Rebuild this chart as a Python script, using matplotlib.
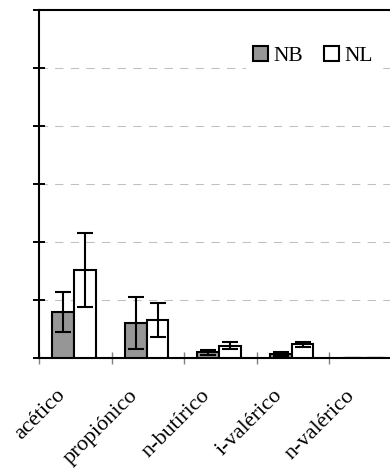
import matplotlib
matplotlib.use("Agg")
import matplotlib.pyplot as plt
import numpy as np
from matplotlib.patches import Patch
from matplotlib.transforms import ScaledTranslation

# Ácidos grasos volátiles por grupo
categories = ["acético", "propiónico", "n-butírico", "i-valérico", "n-valérico"]
nb_values = [7.9, 6.1, 1.0, 0.7, 0.05]
nb_errors = [3.5, 4.5, 0.45, 0.35, 0.0]
nl_values = [15.2, 6.5, 2.1, 2.35, 0.05]
nl_errors = [6.4, 2.9, 0.6, 0.4, 0.0]
series_names = ["NB", "NL"]

plt.rcParams["font.family"] = ["Liberation Serif", "DejaVu Serif"]

fig = plt.figure(figsize=(3.9, 4.68), dpi=100)
ax = fig.add_axes([39 / 390, 110 / 468, 362.5 / 390, 348 / 468])

x = np.arange(len(categories))
w = 0.30
err_kw = dict(ecolor="black", elinewidth=1.5, capsize=5.5, capthick=1.5)

ax.bar(x - w / 2 - 0.015, nb_values, w, color="#969696", edgecolor="black",
       linewidth=1.5, yerr=nb_errors, error_kw=err_kw, zorder=3)
ax.bar(x + w / 2 - 0.015, nl_values, w, color="white", edgecolor="black",
       linewidth=1.5, yerr=nl_errors, error_kw=err_kw, zorder=3)

ax.set_xlim(-0.5, len(categories) - 0.5)
ax.set_ylim(0, 60)

# y axis: ticks without labels, dashed grid
ax.set_yticks(np.arange(0, 61, 10))
ax.set_yticklabels([])
ax.tick_params(axis="y", direction="inout", length=9, width=1.4, color="black")
ax.yaxis.grid(True, linestyle=(0, (8, 7)), color="#c0c0c0", linewidth=0.75, zorder=0)
ax.set_axisbelow(True)

# x axis: separators between categories, rotated labels
ax.set_xticks(x)
ax.set_xticks(np.arange(-0.5, len(categories), 1.0), minor=True)
ax.tick_params(axis="x", which="major", length=0, pad=25)
ax.tick_params(axis="x", which="minor", direction="inout", length=8.6,
               width=1.0, color="#808080")
ax.set_xticklabels(categories, rotation=45, ha="right", va="center",
                   rotation_mode="anchor", fontsize=16)
shift = ScaledTranslation(-13 / 100, 0, fig.dpi_scale_trans)
for lab in ax.get_xticklabels():
    lab.set_transform(lab.get_transform() + shift)

for side in ("left", "bottom", "top"):
    ax.spines[side].set_linewidth(1.5)
    ax.spines[side].set_color("black")
ax.spines["right"].set_visible(False)

handles = [Patch(facecolor="#969696", edgecolor="black", linewidth=1.5),
           Patch(facecolor="white", edgecolor="black", linewidth=1.5)]
leg = ax.legend(handles, series_names, ncol=2, loc="center",
                bbox_to_anchor=(313 / 390, 1 - 56 / 468),
                bbox_transform=fig.transFigure, fontsize=15.5,
                handlelength=0.7, handleheight=0.7, handletextpad=0.25,
                columnspacing=1.0, frameon=True, fancybox=False,
                borderpad=0.3, borderaxespad=0)
leg.get_frame().set_edgecolor("none")
leg.get_frame().set_facecolor("white")
leg.get_frame().set_alpha(1)

fig.savefig("out.png", dpi=100)
